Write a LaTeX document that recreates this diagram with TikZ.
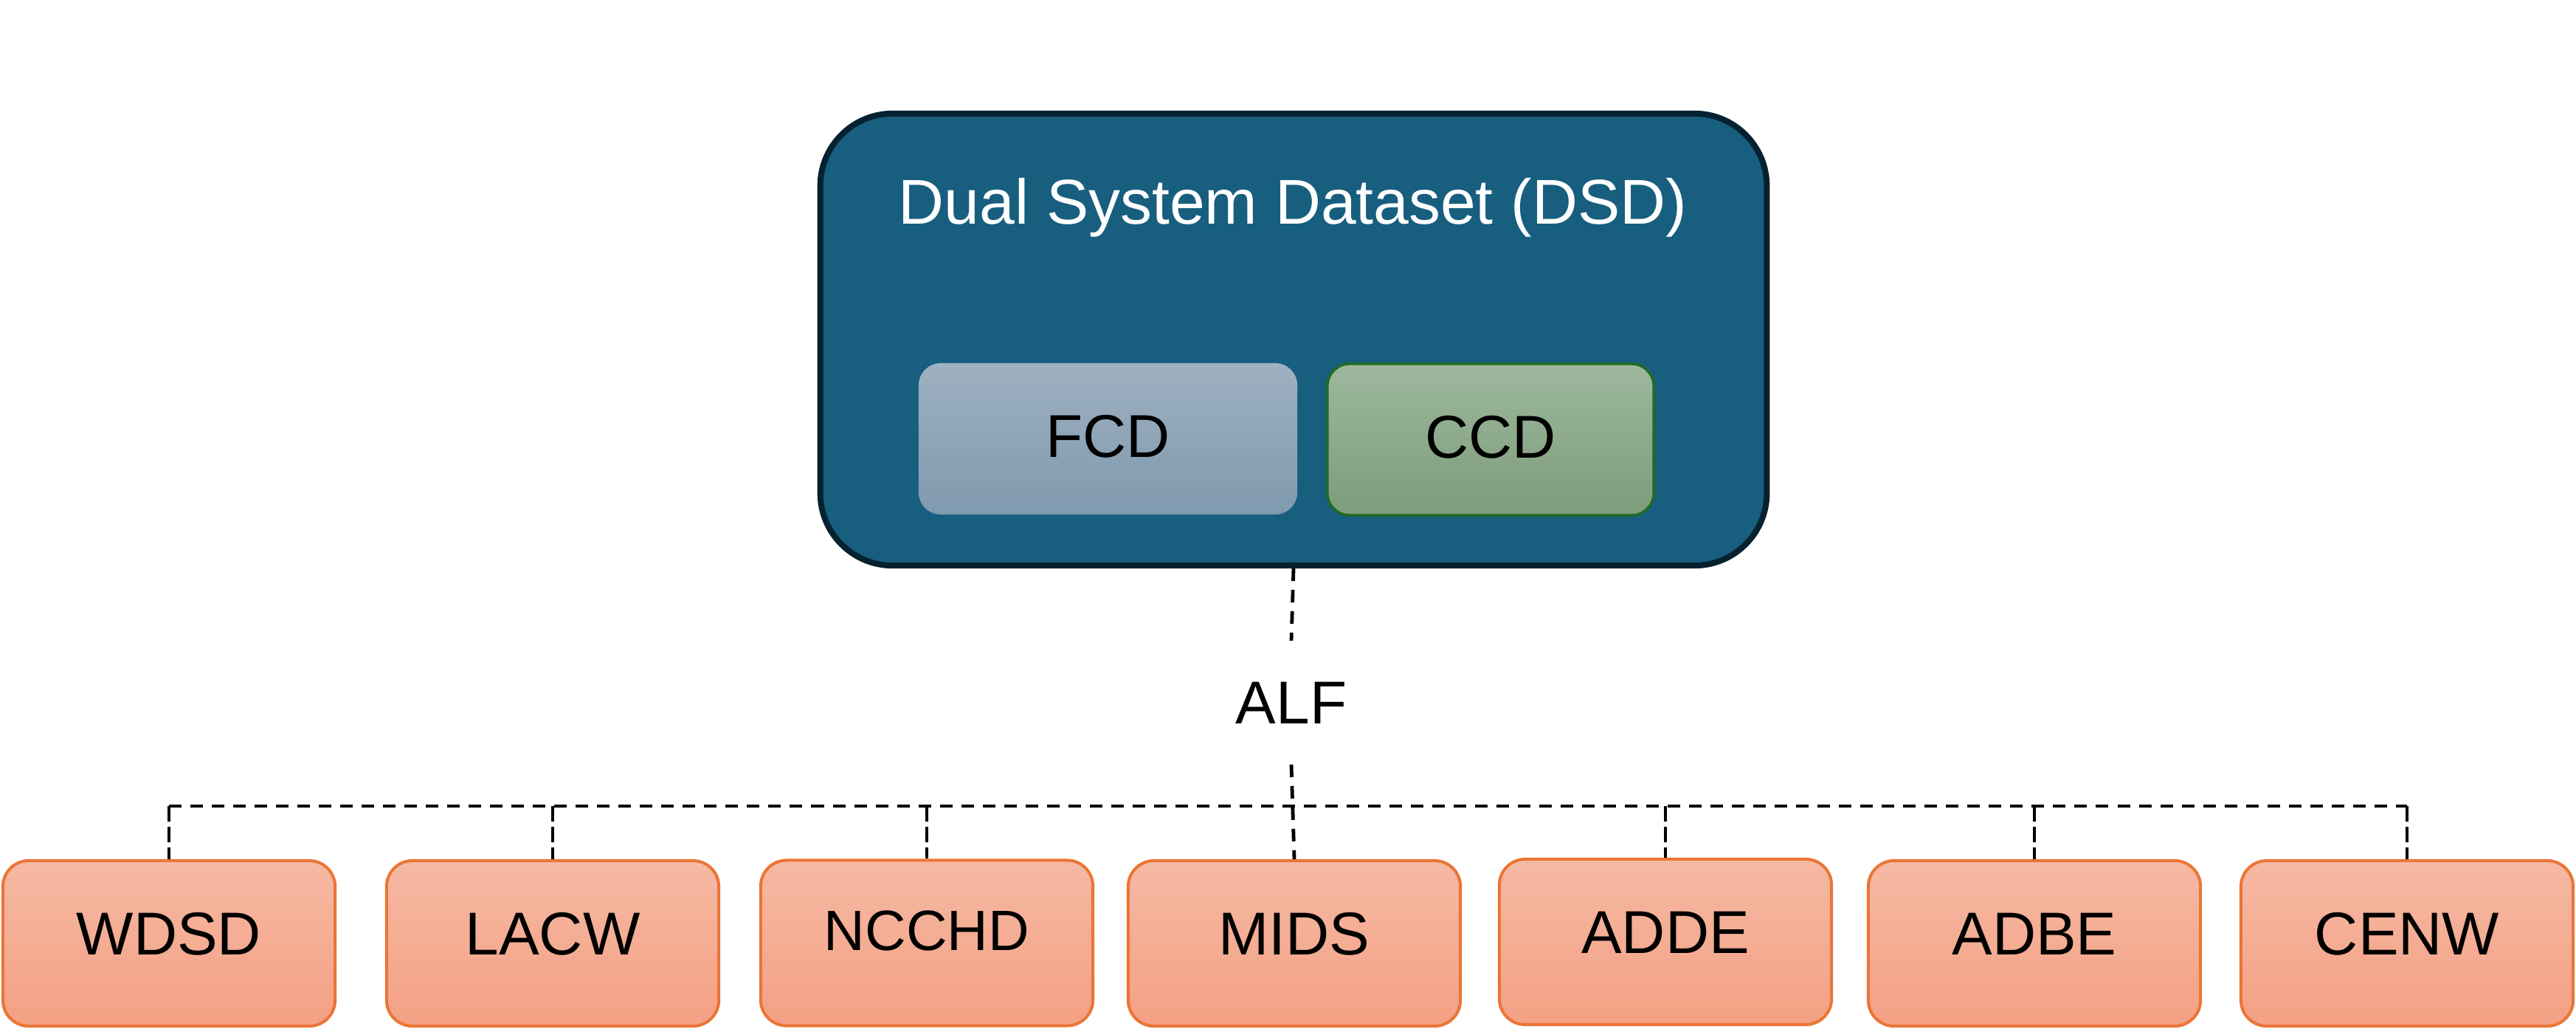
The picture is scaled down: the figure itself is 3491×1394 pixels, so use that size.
\documentclass[tikz,border=0pt]{standalone}
\usepackage{fontspec}
\setmainfont{Liberation Sans}
\definecolor{dsdfill}{HTML}{175E7F}
\definecolor{dsdline}{HTML}{06212F}
\definecolor{fcdtop}{HTML}{9EB1C1}
\definecolor{fcdbot}{HTML}{7F99AE}
\definecolor{ccdtop}{HTML}{9DB89D}
\definecolor{ccdbot}{HTML}{7D9C7A}
\definecolor{ccdline}{HTML}{1F6B24}
\definecolor{subtop}{HTML}{F5B9A4}
\definecolor{subbot}{HTML}{F4A083}
\definecolor{subline}{HTML}{EB7535}
\tikzset{
  mainbox/.style={draw=dsdline, fill=dsdfill, line width=0.08cm, rounded corners=0.98cm,
    minimum width=12.82cm, minimum height=6.12cm, inner sep=0pt},
  innerbox/.style={rounded corners=0.30cm, minimum height=2.05cm, inner sep=0pt,
    font=\fontsize{23.3}{28}\selectfont, text height=0.60cm, text depth=0.10cm},
  fcdbox/.style={innerbox, top color=fcdtop, bottom color=fcdbot, minimum width=5.13cm},
  ccdbox/.style={innerbox, top color=ccdtop, bottom color=ccdbot, draw=ccdline,
    line width=0.035cm, minimum width=4.42cm},
  subbox/.style={rounded corners=0.35cm, top color=subtop, bottom color=subbot, draw=subline,
    line width=0.04cm, minimum width=4.50cm, minimum height=2.24cm, inner sep=0pt,
    font=\fontsize{23.3}{28}\selectfont, text height=0.60cm, text depth=0.30cm},
  link/.style={line width=0.048cm, dash pattern=on 0.17cm off 0.12cm},
  droplink/.style={line width=0.045cm, dash pattern=on 0.21cm off 0.07cm}
}
\begin{document}
\begin{tikzpicture}[x=0.01cm, y=-0.01cm]
\useasboundingbox (0,0) rectangle (3491,1394);
% main dataset
\node[mainbox] (dsd) at (1753,460) {};
\node[anchor=base, text=white, font=\fontsize{24.4}{29}\selectfont, inner sep=0pt] (title) at (1752,303) {Dual System Dataset (DSD)};
\node[fcdbox] (fcd) at (1501.5,594.5) {FCD};
\node[ccdbox] (ccd) at (2020,595.5) {CCD};
% ALF label
\node[anchor=base, font=\fontsize{23.3}{28}\selectfont, inner xsep=0.05cm, inner ysep=0.55cm] (alf) at (1750,980) {ALF};
% bottom datasets
\node[subbox] (wdsd) at (229,1278) {WDSD};
\node[subbox] (lacw) at (749,1278) {LACW};
\node[subbox, font=\fontsize{21.9}{26}\selectfont, text height=0.55cm, text depth=0.36cm] (ncchd) at (1256,1277.5) {NCCHD};
\node[subbox] (mids) at (1754,1278) {MIDS};
\node[subbox] (adde) at (2257,1276) {ADDE};
\node[subbox] (adbe) at (2757,1278) {ADBE};
\node[subbox] (cenw) at (3262,1278) {CENW};
% connectors
\coordinate (bus) at (1752,1092);
\draw[link] (dsd.south) -- (alf.north);
\draw[link] (alf.south) -- (mids.north);
\draw[link] (wdsd.north |- bus) -- (cenw.north |- bus);
\foreach \b in {wdsd,lacw,ncchd,adde,adbe,cenw}{
  \draw[droplink] (\b.north |- bus) -- (\b.north);
}
\end{tikzpicture}
\end{document}
